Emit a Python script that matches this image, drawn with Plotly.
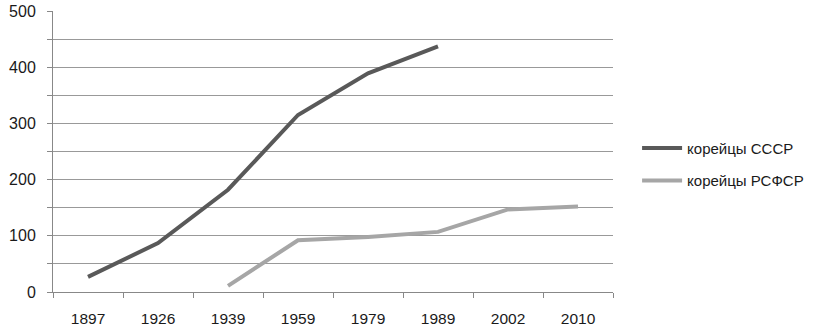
import plotly.graph_objects as go

years = ["1897", "1926", "1939", "1959", "1979", "1989", "2002", "2010"]
ussr = [27, 87, 182, 315, 389, 437, None, None]
rsfsr = [None, None, 11, 92, 98, 107, 147, 152]
names = ["корейцы СССР", "корейцы РСФСР"]

fig = go.Figure()
fig.add_trace(go.Scatter(x=years, y=ussr, mode="lines", name=names[0],
                         line=dict(color="#595959", width=4), legendgroup="a"))
fig.add_trace(go.Scatter(x=years, y=rsfsr, mode="lines", name=names[1],
                         line=dict(color="#a6a6a6", width=4), legendgroup="b"))

yvals = list(range(0, 501, 50))
ytext = [str(v) if v % 100 == 0 else "" for v in yvals]

fig.update_layout(
    width=827, height=331,
    margin=dict(l=53, r=214, t=11, b=39),
    paper_bgcolor="white", plot_bgcolor="white",
    font=dict(family="Liberation Sans, Arial, sans-serif", size=16, color="#1a1a1a"),
    showlegend=True,
    legend=dict(x=1.043, y=0.455, xanchor="left", yanchor="middle",
                tracegroupgap=10, itemwidth=40, font=dict(size=15, color="#1a1a1a"),
                bgcolor="rgba(0,0,0,0)"),
    xaxis=dict(type="category", tickson="boundaries", ticks="outside", ticklen=5,
               tickcolor="#888", showline=True, linecolor="#888", linewidth=1,
               showgrid=False, range=[-0.5, 7.5], automargin=False,
               tickfont=dict(size=15.5), ticklabelstandoff=12),
    yaxis=dict(range=[0, 500], tickvals=yvals, ticktext=ytext, ticks="outside",
               ticklen=5, tickcolor="#888", showline=True, linecolor="#888",
               linewidth=1, showgrid=True, gridcolor="#999", gridwidth=1,
               zeroline=False, ticklabelstandoff=8, automargin=False),
)
fig.write_html("out.html", post_script="document.body.style.margin='0';",
               config={"displayModeBar": False})
